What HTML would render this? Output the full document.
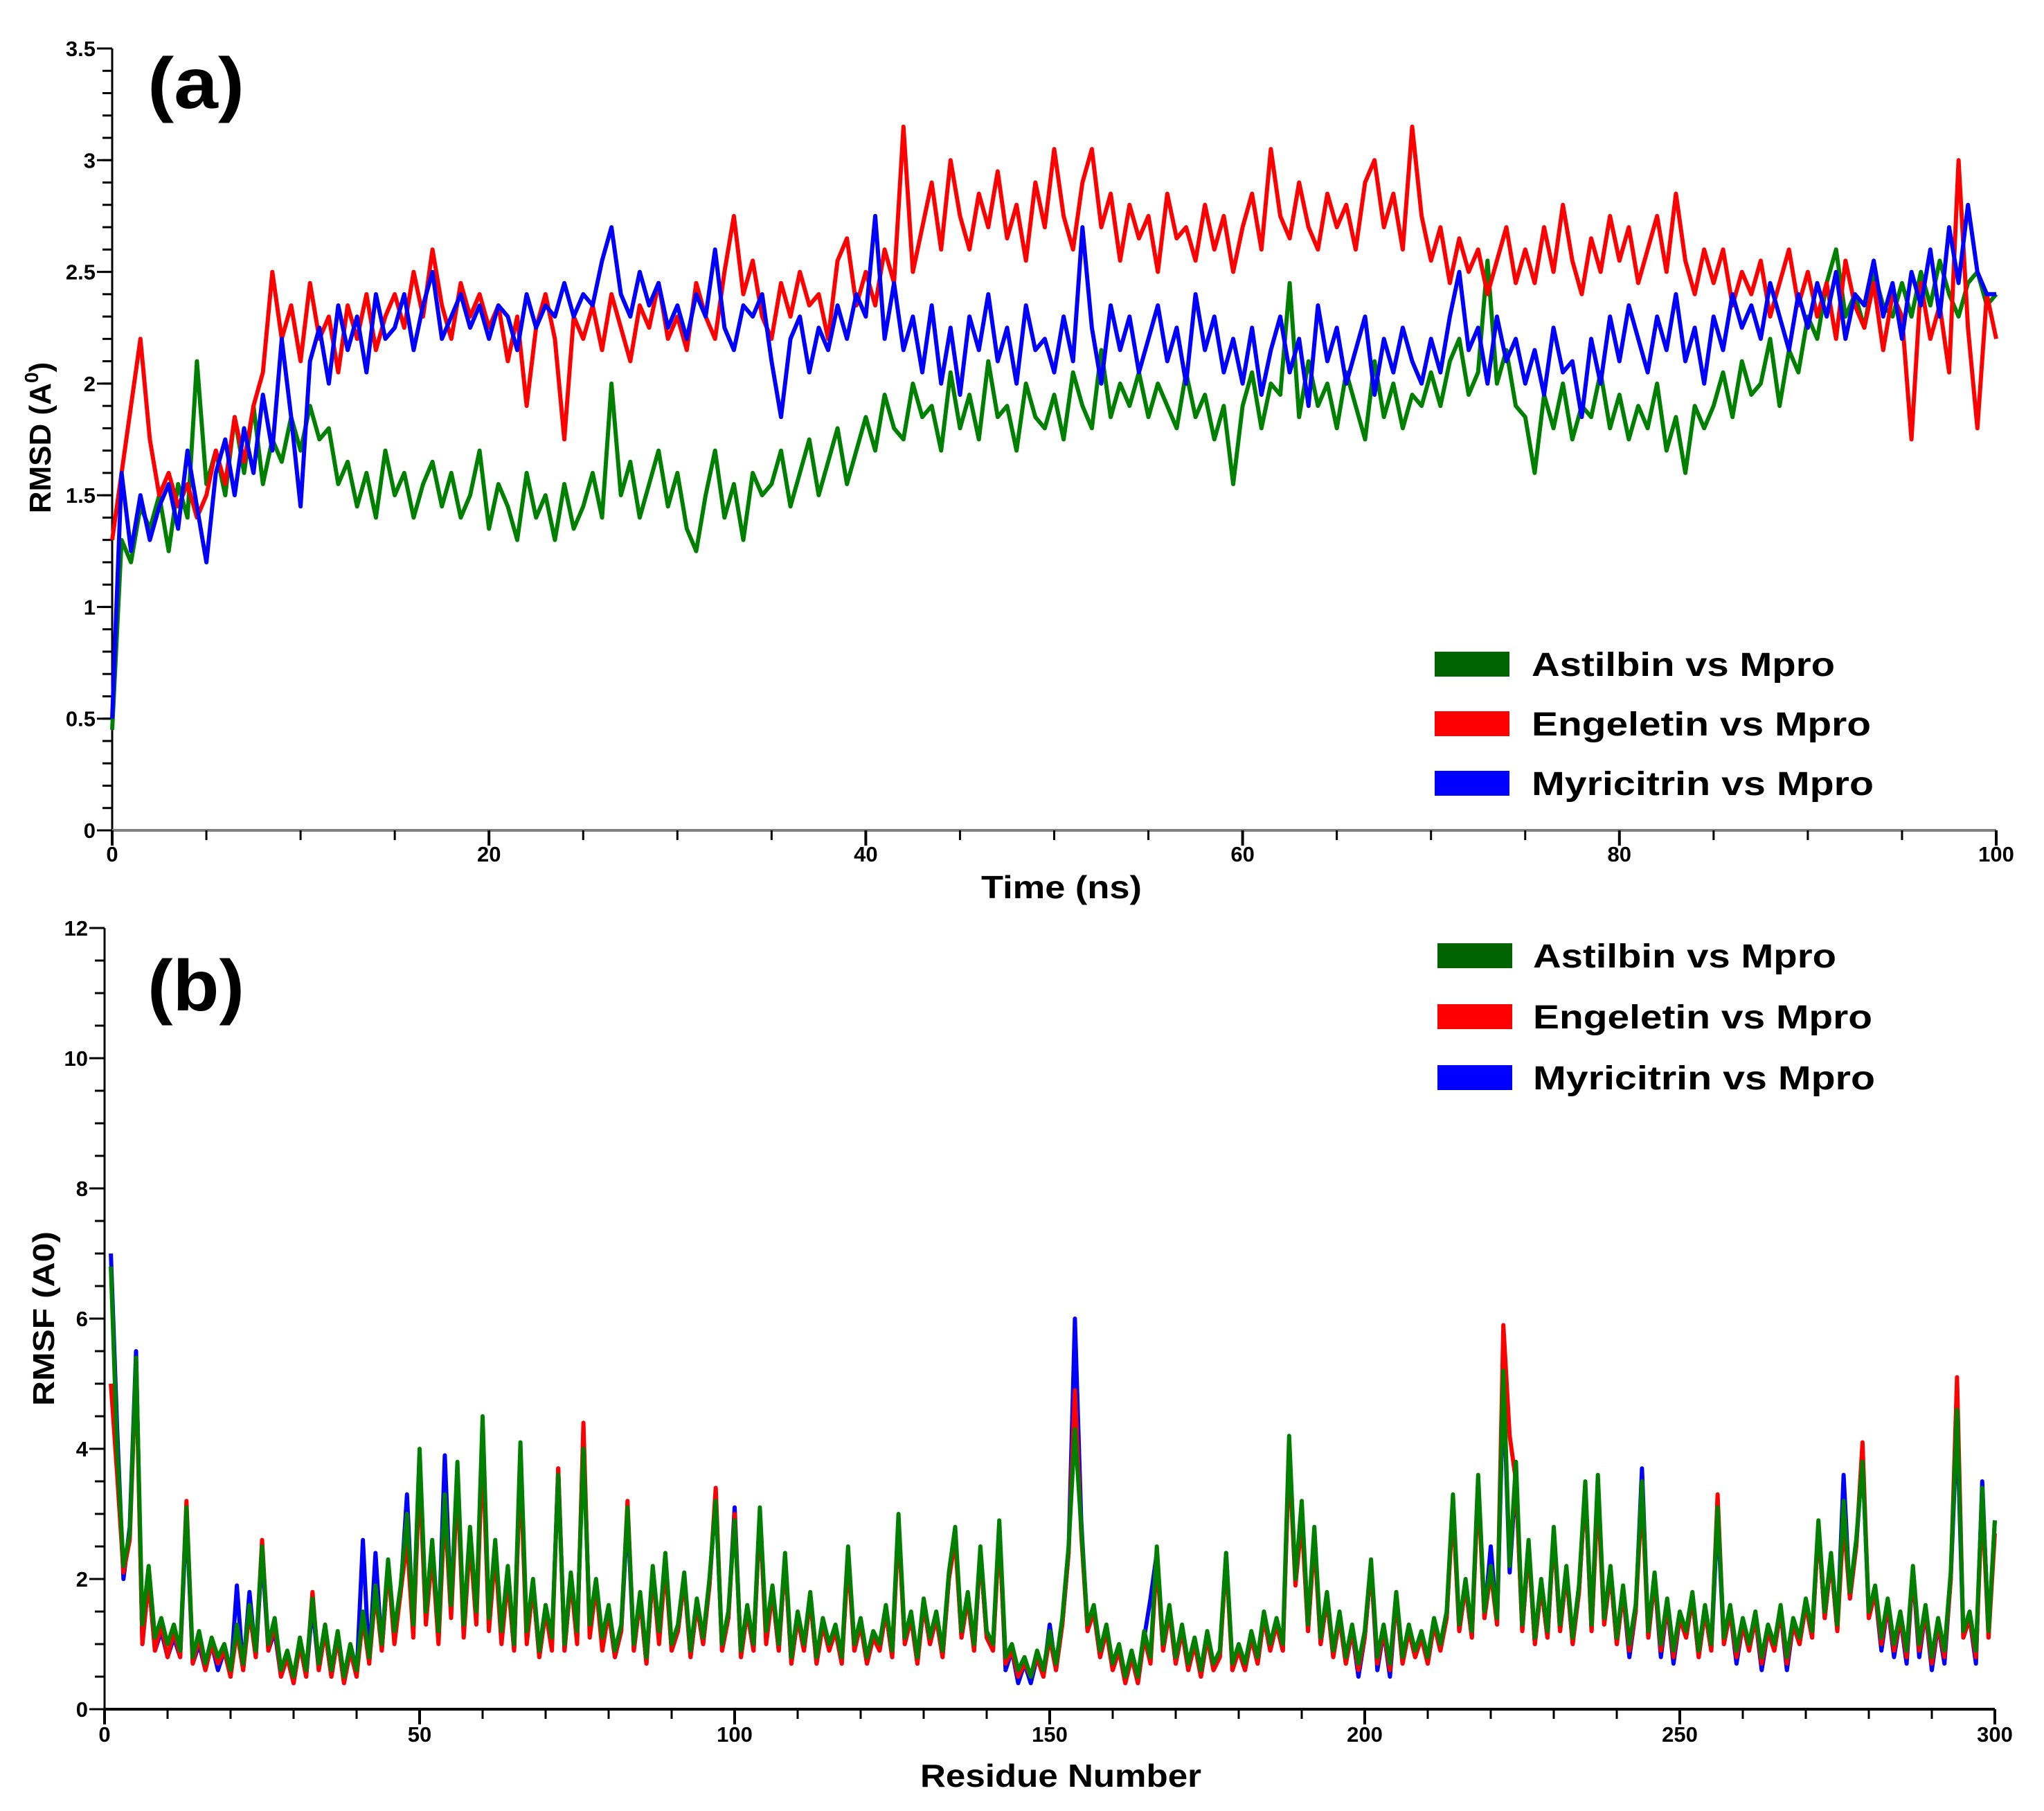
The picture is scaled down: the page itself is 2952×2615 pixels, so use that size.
<!DOCTYPE html>
<html><head><meta charset="utf-8"><style>
html,body{margin:0;padding:0;background:#fff;}
svg{display:block;font-family:"Liberation Sans",Arial,sans-serif;font-weight:bold;}
</style></head><body>
<svg id="fig" xmlns="http://www.w3.org/2000/svg" width="2952" height="2615" viewBox="0 0 2952 2615">
<rect width="2952" height="2615" fill="#fff"/>
<g id="pa"></g>
<g id="pb"></g>
</svg>
<script>
// ---------- Panel (a) RMSD data: time every 0.5 ns from 0 to 100 ----------
const rmsdTimeStep = 0.5;
const rmsdAstilbin = [0.45,1.3,1.2,1.45,1.35,1.5,1.25,1.55,1.4,2.1,
1.55,1.7,1.5,1.85,1.6,1.9,1.55,1.75,1.65,1.85,
1.7,1.9,1.75,1.8,1.55,1.65,1.45,1.6,1.4,1.7,
1.5,1.6,1.4,1.55,1.65,1.45,1.6,1.4,1.5,1.7,
1.35,1.55,1.45,1.3,1.6,1.4,1.5,1.3,1.55,1.35,
1.45,1.6,1.4,2.0,1.5,1.65,1.4,1.55,1.7,1.45,
1.6,1.35,1.25,1.5,1.7,1.4,1.55,1.3,1.6,1.5,
1.55,1.7,1.45,1.6,1.75,1.5,1.65,1.8,1.55,1.7,
1.85,1.7,1.95,1.8,1.75,2.0,1.85,1.9,1.7,2.05,
1.8,1.95,1.75,2.1,1.85,1.9,1.7,2.0,1.85,1.8,
1.95,1.75,2.05,1.9,1.8,2.15,1.85,2.0,1.9,2.05,
1.85,2.0,1.9,1.8,2.05,1.85,1.95,1.75,1.9,1.55,
1.9,2.05,1.8,2.0,1.95,2.45,1.85,2.1,1.9,2.0,
1.8,2.05,1.9,1.75,2.1,1.85,2.0,1.8,1.95,1.9,
2.05,1.9,2.1,2.2,1.95,2.05,2.55,2.0,2.15,1.9,
1.85,1.6,1.95,1.8,2.0,1.75,1.9,1.85,2.05,1.8,
1.95,1.75,1.9,1.8,2.0,1.7,1.85,1.6,1.9,1.8,
1.9,2.05,1.85,2.1,1.95,2.0,2.2,1.9,2.15,2.05,
2.3,2.2,2.45,2.6,2.3,2.4,2.25,2.5,2.35,2.3,
2.45,2.3,2.5,2.35,2.55,2.4,2.3,2.45,2.5,2.35,2.4];
const rmsdEngeletin = [1.3,1.6,1.9,2.2,1.75,1.5,1.6,1.45,1.55,1.4,
1.5,1.7,1.55,1.85,1.65,1.9,2.05,2.5,2.2,2.35,
2.1,2.45,2.2,2.3,2.05,2.35,2.2,2.4,2.15,2.3,
2.4,2.25,2.5,2.3,2.6,2.35,2.2,2.45,2.3,2.4,
2.25,2.35,2.1,2.3,1.9,2.25,2.4,2.2,1.75,2.3,
2.2,2.35,2.15,2.4,2.25,2.1,2.35,2.25,2.45,2.2,
2.3,2.15,2.45,2.3,2.2,2.5,2.75,2.4,2.55,2.3,
2.2,2.45,2.3,2.5,2.35,2.4,2.2,2.55,2.65,2.35,
2.5,2.35,2.6,2.45,3.15,2.5,2.7,2.9,2.6,3.0,
2.75,2.6,2.85,2.7,2.95,2.65,2.8,2.55,2.9,2.7,
3.05,2.75,2.6,2.9,3.05,2.7,2.85,2.55,2.8,2.65,
2.75,2.5,2.85,2.65,2.7,2.55,2.8,2.6,2.75,2.5,
2.7,2.85,2.6,3.05,2.75,2.65,2.9,2.7,2.6,2.85,
2.7,2.8,2.6,2.9,3.0,2.7,2.85,2.6,3.15,2.75,
2.55,2.7,2.45,2.65,2.5,2.6,2.4,2.55,2.7,2.45,
2.6,2.45,2.7,2.5,2.8,2.55,2.4,2.65,2.5,2.75,
2.55,2.7,2.45,2.6,2.75,2.5,2.85,2.55,2.4,2.6,
2.45,2.6,2.35,2.5,2.4,2.55,2.3,2.45,2.6,2.35,
2.5,2.3,2.45,2.2,2.55,2.35,2.25,2.45,2.15,2.4,
2.3,1.75,2.45,2.2,2.35,2.05,3.0,2.25,1.8,2.4,2.2];
const rmsdMyricitrin = [0.5,1.6,1.25,1.5,1.3,1.45,1.55,1.35,1.7,1.45,
1.2,1.6,1.75,1.5,1.8,1.6,1.95,1.7,2.2,1.85,
1.45,2.1,2.25,2.0,2.35,2.15,2.3,2.05,2.4,2.2,
2.25,2.4,2.15,2.35,2.5,2.2,2.3,2.4,2.25,2.35,
2.2,2.35,2.3,2.15,2.4,2.25,2.35,2.3,2.45,2.3,
2.4,2.35,2.55,2.7,2.4,2.3,2.5,2.35,2.45,2.25,
2.35,2.2,2.4,2.3,2.6,2.25,2.15,2.35,2.3,2.4,
2.1,1.85,2.2,2.3,2.05,2.25,2.15,2.35,2.2,2.4,
2.3,2.75,2.2,2.45,2.15,2.3,2.05,2.35,2.0,2.25,
1.95,2.3,2.15,2.4,2.1,2.25,2.0,2.35,2.15,2.2,
2.05,2.3,2.1,2.7,2.25,2.0,2.35,2.15,2.3,2.05,
2.2,2.35,2.1,2.25,2.0,2.4,2.15,2.3,2.05,2.2,
2.0,2.25,1.95,2.15,2.3,2.05,2.2,1.9,2.35,2.1,
2.25,2.0,2.15,2.3,1.95,2.2,2.05,2.25,2.1,2.0,
2.2,2.05,2.3,2.5,2.15,2.25,2.0,2.3,2.1,2.2,
2.0,2.15,1.95,2.25,2.05,2.1,1.85,2.2,2.0,2.3,
2.1,2.35,2.2,2.05,2.3,2.15,2.4,2.1,2.25,2.0,
2.3,2.15,2.4,2.25,2.35,2.2,2.45,2.3,2.15,2.4,
2.25,2.45,2.3,2.5,2.2,2.4,2.35,2.55,2.3,2.45,
2.2,2.5,2.35,2.6,2.3,2.7,2.45,2.8,2.5,2.4,2.4];
const rmsdYTicks = [0,0.5,1,1.5,2,2.5,3,3.5];
const rmsdYTickLabels = ["0","0.5","1","1.5","2","2.5","3","3.5"];
const rmsdXTicks = [0,20,40,60,80,100];
const rmsdXTickLabels = ["0","20","40","60","80","100"];

// ---------- Panel (b) RMSF data: residues 1..300 ----------
const rmsfAstilbin = [6.8,4.0,2.2,2.7,5.4,1.3,2.2,1.1,1.4,1.0,
1.3,0.9,3.1,0.8,1.2,0.7,1.1,0.8,1.0,0.6,
1.3,0.7,1.6,0.9,2.5,1.0,1.4,0.6,0.9,0.5,
1.1,0.6,1.7,0.7,1.3,0.6,1.2,0.5,1.0,0.6,
1.5,0.8,1.9,1.0,2.3,1.2,1.9,3.0,1.3,4.0,
1.5,2.6,1.2,3.3,1.6,3.8,1.3,2.8,1.5,4.5,
1.4,2.6,1.2,2.2,1.0,4.1,1.2,2.0,0.9,1.6,
1.1,3.6,1.0,2.1,1.2,4.0,1.3,2.0,1.1,1.6,
0.9,1.3,3.1,1.0,1.8,0.8,2.2,1.2,2.4,1.0,
1.3,2.1,0.9,1.7,1.1,2.0,3.2,1.0,1.5,2.9,
0.9,1.6,1.0,3.1,1.2,1.9,1.0,2.4,0.8,1.5,
1.0,1.8,0.8,1.4,1.0,1.3,0.8,2.5,1.0,1.4,
0.8,1.2,1.0,1.6,0.9,3.0,1.1,1.5,0.8,1.7,
1.1,1.5,0.9,2.1,2.8,1.2,1.8,1.0,2.5,1.2,
1.0,2.9,0.8,1.0,0.6,0.8,0.5,0.9,0.6,1.2,
0.7,1.4,2.5,4.3,2.8,1.3,1.6,0.9,1.3,0.7,
1.0,0.5,0.9,0.5,1.2,0.8,2.5,1.0,1.6,0.8,
1.3,0.7,1.1,0.6,1.2,0.7,0.9,2.4,0.7,1.0,
0.7,1.2,0.8,1.5,1.0,1.4,1.0,4.2,2.0,3.2,
1.3,2.8,1.1,1.8,0.9,1.5,0.8,1.3,0.7,1.2,
2.3,0.8,1.3,0.7,1.8,0.8,1.3,0.9,1.2,0.8,
1.4,1.0,1.5,3.3,1.3,2.0,1.2,3.6,1.5,2.2,
1.4,5.2,2.2,3.8,1.3,2.6,1.1,2.0,1.2,2.8,
1.3,2.2,1.1,1.9,3.5,1.3,3.6,1.4,2.2,1.1,
1.9,1.0,1.6,3.5,1.2,2.1,1.0,1.7,0.9,1.5,
1.2,1.8,0.9,1.6,1.0,3.1,1.1,1.6,0.9,1.4,
1.0,1.5,0.8,1.3,1.0,1.6,0.8,1.4,1.1,1.7,
1.2,2.9,1.5,2.4,1.3,3.2,1.8,2.6,3.8,1.5,
1.9,1.1,1.7,1.0,1.5,0.9,2.2,1.0,1.6,0.8,
1.4,0.9,2.1,4.6,1.2,1.5,0.9,3.4,1.2,2.9];
const rmsfEngeletin = [5.0,3.6,2.1,2.6,5.3,1.0,2.0,0.9,1.3,0.8,
1.2,0.8,3.2,0.7,1.1,0.6,1.0,0.7,0.9,0.5,
1.2,0.6,1.5,0.8,2.6,0.9,1.3,0.5,0.8,0.4,
1.0,0.5,1.8,0.6,1.2,0.5,1.1,0.4,0.9,0.5,
1.4,0.7,1.8,0.9,2.2,1.0,1.8,2.6,1.1,3.6,
1.3,2.4,1.0,3.1,1.4,3.5,1.1,2.6,1.3,4.0,
1.2,2.4,1.0,2.0,0.9,3.7,1.0,1.9,0.8,1.5,
0.9,3.7,0.9,2.0,1.0,4.4,1.1,1.9,0.9,1.5,
0.8,1.2,3.2,0.9,1.7,0.7,2.1,1.0,2.2,0.9,
1.2,2.0,0.8,1.6,1.0,1.9,3.4,0.9,1.4,3.0,
0.8,1.5,0.9,3.0,1.0,1.8,0.9,2.3,0.7,1.4,
0.9,1.7,0.7,1.3,0.9,1.2,0.7,2.3,0.9,1.3,
0.7,1.1,0.9,1.5,0.8,2.8,1.0,1.4,0.7,1.6,
1.0,1.4,0.8,2.0,2.6,1.1,1.7,0.9,2.4,1.1,
0.9,2.7,0.7,0.9,0.5,0.7,0.5,0.8,0.5,1.1,
0.6,1.3,2.4,4.9,2.7,1.2,1.5,0.8,1.2,0.6,
0.9,0.4,0.8,0.4,1.1,0.7,2.3,0.9,1.5,0.7,
1.2,0.6,1.0,0.5,1.1,0.6,0.8,2.3,0.6,0.9,
0.6,1.1,0.7,1.4,0.9,1.3,0.9,3.9,1.9,2.9,
1.2,2.6,1.0,1.7,0.8,1.4,0.7,1.2,0.6,1.1,
2.2,0.7,1.2,0.6,1.7,0.7,1.2,0.8,1.1,0.7,
1.3,0.9,1.4,3.1,1.2,1.9,1.1,3.4,1.4,2.1,
1.3,5.9,4.2,3.5,1.2,2.5,1.0,1.9,1.1,2.7,
1.2,2.1,1.0,1.8,3.4,1.2,3.3,1.3,2.1,1.0,
1.8,0.9,1.5,3.3,1.1,2.0,0.9,1.6,0.8,1.4,
1.1,1.7,0.8,1.5,0.9,3.3,1.0,1.5,0.8,1.3,
0.9,1.4,0.7,1.2,0.9,1.5,0.7,1.3,1.0,1.6,
1.1,2.8,1.4,2.3,1.2,2.9,1.7,2.5,4.1,1.4,
1.8,1.0,1.6,0.9,1.4,0.8,2.1,0.9,1.5,0.7,
1.3,0.8,2.0,5.1,1.1,1.4,0.8,3.2,1.1,2.7];
const rmsfMyricitrin = [7.0,4.3,2.0,2.8,5.5,1.0,2.0,0.9,1.2,0.8,
1.1,0.8,3.0,0.7,1.0,0.6,1.0,0.6,0.9,0.5,
1.9,0.6,1.8,0.8,2.4,0.9,1.2,0.5,0.8,0.4,
1.0,0.5,1.6,0.6,1.2,0.5,1.1,0.4,0.9,0.5,
2.6,0.7,2.4,0.9,2.2,1.1,1.8,3.3,1.2,3.9,
1.4,2.5,1.1,3.9,1.5,3.7,1.2,2.7,1.4,4.3,
1.3,2.5,1.1,2.1,0.9,3.9,1.1,1.9,0.8,1.5,
1.0,3.7,0.9,2.0,1.1,4.2,1.2,1.9,1.0,1.5,
0.8,1.2,3.0,0.9,1.7,0.7,2.1,1.1,2.3,0.9,
1.2,2.0,0.8,1.6,1.0,1.9,3.3,0.9,1.4,3.1,
0.8,1.5,0.9,3.0,1.1,1.8,0.9,2.3,0.7,1.4,
0.9,1.7,0.7,1.3,0.9,1.2,0.7,2.4,0.9,1.3,
0.7,1.1,0.9,1.5,0.8,2.9,1.0,1.4,0.7,1.6,
1.0,1.4,0.8,2.0,2.7,1.1,1.7,0.9,2.4,1.1,
0.9,2.8,0.6,0.9,0.4,0.7,0.4,0.8,0.5,1.3,
0.6,1.3,2.4,6.0,2.9,1.2,1.5,0.8,1.2,0.6,
0.9,0.4,0.8,0.4,1.1,1.7,2.4,0.9,1.5,0.7,
1.2,0.6,1.0,0.5,1.1,0.6,0.8,2.4,0.6,0.9,
0.6,1.1,0.7,1.4,0.9,1.3,0.9,4.0,2.0,3.0,
1.2,2.7,1.0,1.7,0.8,1.4,0.7,1.2,0.5,1.1,
2.2,0.6,1.2,0.5,1.7,0.7,1.2,0.8,1.1,0.7,
1.3,0.9,1.4,3.2,1.2,1.9,1.1,3.5,1.4,2.5,
1.3,5.0,2.1,3.6,1.2,2.5,1.0,1.9,1.1,2.7,
1.2,2.1,1.0,1.8,3.4,1.2,3.5,1.3,2.1,1.0,
1.8,0.8,1.5,3.7,1.1,2.0,0.8,1.6,0.7,1.4,
1.1,1.7,0.8,1.5,0.9,3.0,1.0,1.5,0.7,1.3,
0.9,1.4,0.6,1.2,0.9,1.5,0.6,1.3,1.0,1.6,
1.1,2.8,1.4,2.3,1.2,3.6,1.7,2.5,3.9,1.4,
1.8,0.9,1.6,0.8,1.4,0.7,2.1,0.8,1.5,0.6,
1.3,0.7,2.0,4.4,1.1,1.4,0.7,3.5,1.1,2.9];
const rmsfYTicks = [0,2,4,6,8,10,12];
const rmsfYTickLabels = ["0","2","4","6","8","10","12"];
const rmsfXTicks = [0,50,100,150,200,250,300];
const rmsfXTickLabels = ["0","50","100","150","200","250","300"];
const legendLabels = ["Astilbin vs Mpro","Engeletin vs Mpro","Myricitrin vs Mpro"];

const NS = "http://www.w3.org/2000/svg";
function mk(parent, tag, attrs){
  const e = document.createElementNS(NS, tag);
  for (const k in attrs) e.setAttribute(k, attrs[k]);
  parent.appendChild(e);
  return e;
}

const A = {x0:162, x1:2883, y0:1199, y1:70, xmin:0, xmax:100, ymin:0, ymax:3.5};
const B = {x0:151, x1:2881, y0:2468, y1:1340, xmin:0, xmax:300, ymin:0, ymax:12};
function sx(P, v){ return P.x0 + (v-P.xmin)/(P.xmax-P.xmin)*(P.x1-P.x0); }
function sy(P, v){ return P.y0 - (v-P.ymin)/(P.ymax-P.ymin)*(P.y0-P.y1); }

function drawAxes(g, P, cfg){
  const ax = mk(g,'g',{});
  
  
  const yl = mk(ax,'line',{x1:P.x0,y1:P.y0,x2:P.x0,y2:P.y1,stroke:'#000','stroke-width':3});
  
  
  const xl = mk(ax,'line',{x1:P.x0,y1:P.y0,x2:P.x1,y2:P.y0,stroke:cfg.xcol,'stroke-width':4});
  
  
  for (let v=P.ymin; v<=P.ymax+1e-9; v+=cfg.yminor){
    mk(ax,'line',{x1:P.x0-14,y1:sy(P,v),x2:P.x0,y2:sy(P,v),stroke:'#000','stroke-width':3});
  }
  cfg.yt.forEach((v,i)=>{
    mk(ax,'line',{x1:P.x0-22,y1:sy(P,v),x2:P.x0,y2:sy(P,v),stroke:'#000','stroke-width':3});
    const t = mk(ax,'text',{x:P.x0-24,y:sy(P,v)+11,'font-size':31,'text-anchor':'end'});
    t.textContent = cfg.ytl[i];
    
    
  });
  for (let v=P.xmin; v<=P.xmax+1e-9; v+=cfg.xminor){
    mk(ax,'line',{x1:sx(P,v),y1:P.y0,x2:sx(P,v),y2:P.y0+14,stroke:'#000','stroke-width':3});
  }
  cfg.xt.forEach((v,i)=>{
    mk(ax,'line',{x1:sx(P,v),y1:P.y0,x2:sx(P,v),y2:P.y0+22,stroke:'#000','stroke-width':4});
    const t = mk(ax,'text',{x:sx(P,v),y:P.y0+cfg.xlabDy,'font-size':31,'text-anchor':'middle'});
    t.textContent = cfg.xtl[i];
    
    
  });
}

function drawLine(g, P, xs, ys, color, w, name){
  let d = '';
  ys.forEach((v,i)=>{ d += (i?'L':'M') + sx(P,xs[i]).toFixed(1) + ',' + sy(P,v).toFixed(1); });
  const p = mk(g,'path',{d:d,fill:'none',stroke:color,'stroke-width':w,'stroke-linejoin':'round'});
  
  
}

function drawLegend(g, x, ys, textX, widths, colors, prefix){
  const lg = mk(g,'g',{});
  
  
  legendLabels.forEach((lab,i)=>{
    const r = mk(lg,'rect',{x:x,y:ys[i]-18,width:108,height:36,fill:colors[i]});
    
    
    const t = mk(lg,'text',{x:textX,y:ys[i]+17,'font-size':48,textLength:widths[i],lengthAdjust:'spacingAndGlyphs'});
    t.textContent = lab;
    
    
  });
}

// ---------- Panel A ----------
const ga = document.getElementById('pa');
drawAxes(ga, A, {prefix:'rmsd', xcol:'#808080', yminor:0.1, yt:rmsdYTicks, ytl:rmsdYTickLabels, xminor:5, xt:rmsdXTicks, xtl:rmsdXTickLabels, xlabDy:45});
const tA = rmsdAstilbin.map((v,i)=>i*rmsdTimeStep);
drawLine(ga, A, tA, rmsdAstilbin, '#008000', 6, 'astilbin-rmsd-line');
drawLine(ga, A, tA, rmsdEngeletin, '#ff0000', 6, 'engeletin-rmsd-line');
drawLine(ga, A, tA, rmsdMyricitrin, '#0000ff', 6, 'myricitrin-rmsd-line');
drawLegend(ga, 2072, [959,1045,1131], 2212, [438,490,494], ['#006400','#ff0000','#0000ff'], 'rmsd');
let t;
t = mk(ga,'text',{x:213,y:156,'font-size':104,textLength:140,lengthAdjust:'spacingAndGlyphs'}); t.textContent='(a)';


t = mk(ga,'text',{x:1417,y:1297,'font-size':46,textLength:232,lengthAdjust:'spacingAndGlyphs'}); t.textContent='Time (ns)';


t = mk(ga,'text',{x:0,y:0,'font-size':44,'text-anchor':'middle',transform:'translate(73,632) rotate(-90)'});
t.innerHTML = 'RMSD (A<tspan font-size="28" dy="-18">0</tspan><tspan dy="18">)</tspan>';



// ---------- Panel B ----------
const gb = document.getElementById('pb');
drawAxes(gb, B, {prefix:'rmsf', xcol:'#000', yminor:0.5, yt:rmsfYTicks, ytl:rmsfYTickLabels, xminor:10, xt:rmsfXTicks, xtl:rmsfXTickLabels, xlabDy:47});
const rB = rmsfAstilbin.map((v,i)=>i+1);
drawLine(gb, B, rB, rmsfMyricitrin, '#0000ff', 6, 'myricitrin-rmsf-line');
drawLine(gb, B, rB, rmsfEngeletin, '#ff0000', 6, 'engeletin-rmsf-line');
drawLine(gb, B, rB, rmsfAstilbin, '#008000', 6, 'astilbin-rmsf-line');
drawLegend(gb, 2076, [1380,1468,1556], 2214, [438,490,494], ['#006400','#ff0000','#0000ff'], 'rmsf');
t = mk(gb,'text',{x:213,y:1459,'font-size':104,textLength:140,lengthAdjust:'spacingAndGlyphs'}); t.textContent='(b)';


t = mk(gb,'text',{x:1329,y:2580,'font-size':46,textLength:406,lengthAdjust:'spacingAndGlyphs'}); t.textContent='Residue Number';


t = mk(gb,'text',{x:0,y:0,'font-size':44,'text-anchor':'middle',textLength:252,lengthAdjust:'spacingAndGlyphs',transform:'translate(78,1904) rotate(-90)'});
t.textContent = 'RMSF (A0)';


</script>
</body></html>
